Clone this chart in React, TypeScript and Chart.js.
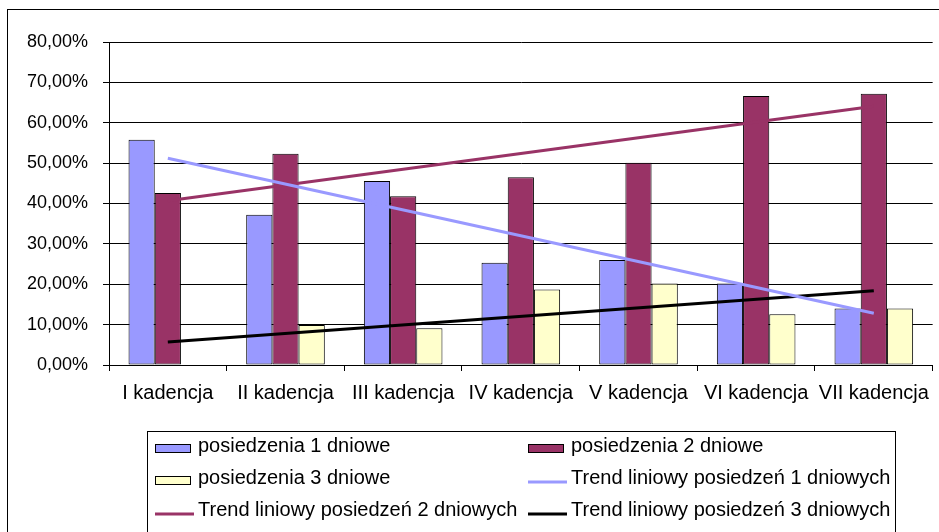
import React, { useEffect, useRef } from "react";
import { Chart, registerables } from "chart.js";

Chart.register(...registerables);

const categories = [
  "I kadencja",
  "II kadencja",
  "III kadencja",
  "IV kadencja",
  "V kadencja",
  "VI kadencja",
  "VII kadencja",
];
const posiedzenia1 = [55.8, 37.2, 45.6, 25.3, 26.0, 20.2, 14.0];
const posiedzenia2 = [42.6, 52.3, 41.8, 46.5, 50.1, 66.6, 67.2];
const posiedzenia3 = [0, 9.9, 9.1, 18.7, 20.2, 12.6, 14.0];
const trend1 = [51.2, null, null, null, null, null, 12.8];
const trend2 = [40.7, null, null, null, null, null, 64.1];
const trend3 = [5.7, null, null, null, null, null, 18.4];
const seriesLabels = [
  "posiedzenia 1 dniowe",
  "posiedzenia 2 dniowe",
  "posiedzenia 3 dniowe",
  "Trend liniowy posiedzeń 1 dniowych",
  "Trend liniowy posiedzeń 2 dniowych",
  "Trend liniowy posiedzeń 3 dniowych",
];
const yMin = 0;
const yMax = 80;
const yStep = 10;

const FONT = "'Liberation Sans', Arial, sans-serif";

const frameAndLegend = {
  id: "frameAndLegend",
  afterDraw(chart: any) {
    const ctx = chart.ctx;
    ctx.save();
    // outer chart frame
    ctx.strokeStyle = "#000";
    ctx.lineWidth = 1;
    ctx.strokeRect(7.5, 9.5, 2000, 2000);
    // legend box
    ctx.strokeStyle = "#000";
    ctx.strokeRect(147.5, 431.5, 748, 200);
    const colX = [155, 528];
    const textX = [198, 571];
    const rowY = [448, 480, 512];
    ctx.font = `20px ${FONT}`;
    ctx.textBaseline = "alphabetic";
    ctx.textAlign = "left";
    chart.data.datasets.forEach((ds: any, i: number) => {
      const col = i % 2;
      const row = Math.floor(i / 2);
      const x = colX[col];
      const y = rowY[row];
      if (ds.type === "line") {
        ctx.strokeStyle = ds.borderColor;
        ctx.lineWidth = 3;
        ctx.beginPath();
        ctx.moveTo(x, y + 2);
        ctx.lineTo(x + 39, y + 2);
        ctx.stroke();
      } else {
        ctx.fillStyle = ds.backgroundColor;
        ctx.fillRect(x, y - 4, 35, 8);
        ctx.strokeStyle = "#000";
        ctx.lineWidth = 1;
        ctx.strokeRect(x + 0.5, y - 3.5, 35, 8);
      }
      ctx.fillStyle = "#000";
      ctx.fillText(ds.label, textX[col], y + 4);
    });
    ctx.restore();
  },
};

export default function App() {
  const ref = useRef<HTMLCanvasElement | null>(null);
  useEffect(() => {
    if (!ref.current) return;
    const barCommon = {
      borderColor: "#000",
      borderWidth: 1,
      categoryPercentage: 0.668,
      barPercentage: 1,
      order: 1,
      borderSkipped: false,
    };
    const lineCommon = {
      type: "line" as const,
      pointRadius: 0,
      borderWidth: 3,
      spanGaps: true,
      fill: false,
      order: 0,
    };
    const chart = new Chart(ref.current, {
      type: "bar",
      data: {
        labels: categories,
        datasets: [
          { ...barCommon, type: "bar", label: seriesLabels[0], data: posiedzenia1, backgroundColor: "#9999FF" },
          { ...barCommon, type: "bar", label: seriesLabels[1], data: posiedzenia2, backgroundColor: "#993366" },
          { ...barCommon, type: "bar", label: seriesLabels[2], data: posiedzenia3, backgroundColor: "#FFFFCC" },
          { ...lineCommon, label: seriesLabels[3], data: trend1, borderColor: "#9999FF" },
          { ...lineCommon, label: seriesLabels[4], data: trend2, borderColor: "#993366" },
          { ...lineCommon, label: seriesLabels[5], data: trend3, borderColor: "#000000" },
        ] as any,
      },
      options: {
        responsive: false,
        animation: false,
        events: [],
        layout: { padding: { left: 0, top: 42, right: 2, bottom: 0 } },
        plugins: {
          legend: { display: false },
          tooltip: { enabled: false },
          title: { display: false },
        },
        scales: {
          x: {
            offset: true,
            grid: {
              offset: true,
              drawOnChartArea: false,
              drawTicks: true,
              tickLength: 6,
              color: "#000",
            },
            border: { color: "#000", width: 1 },
            ticks: {
              color: "#000",
              font: { family: FONT, size: 20 },
              maxRotation: 0,
              minRotation: 0,
              autoSkip: false,
              padding: 10,
            },
            afterFit(scale: any) {
              scale.height = 532 - 365;
            },
          },
          y: {
            min: yMin,
            max: yMax,
            grid: {
              color: "#000",
              drawTicks: true,
              tickLength: 6,
            },
            border: { color: "#000", width: 1 },
            ticks: {
              stepSize: yStep,
              color: "#000",
              font: { family: FONT, size: 18 },
              padding: 15,
              callback: (v: any) => Number(v).toFixed(2).replace(".", ",") + "%",
            },
            afterFit(scale: any) {
              scale.width = 109;
            },
          },
        },
      },
      plugins: [frameAndLegend],
    });
    return () => chart.destroy();
  }, []);
  return (
    <div style={{ position: "absolute", left: 0, top: 0, width: 939, height: 532, background: "#fff" }}>
      <canvas ref={ref} width={939} height={532} style={{ display: "block" }} />
    </div>
  );
}
